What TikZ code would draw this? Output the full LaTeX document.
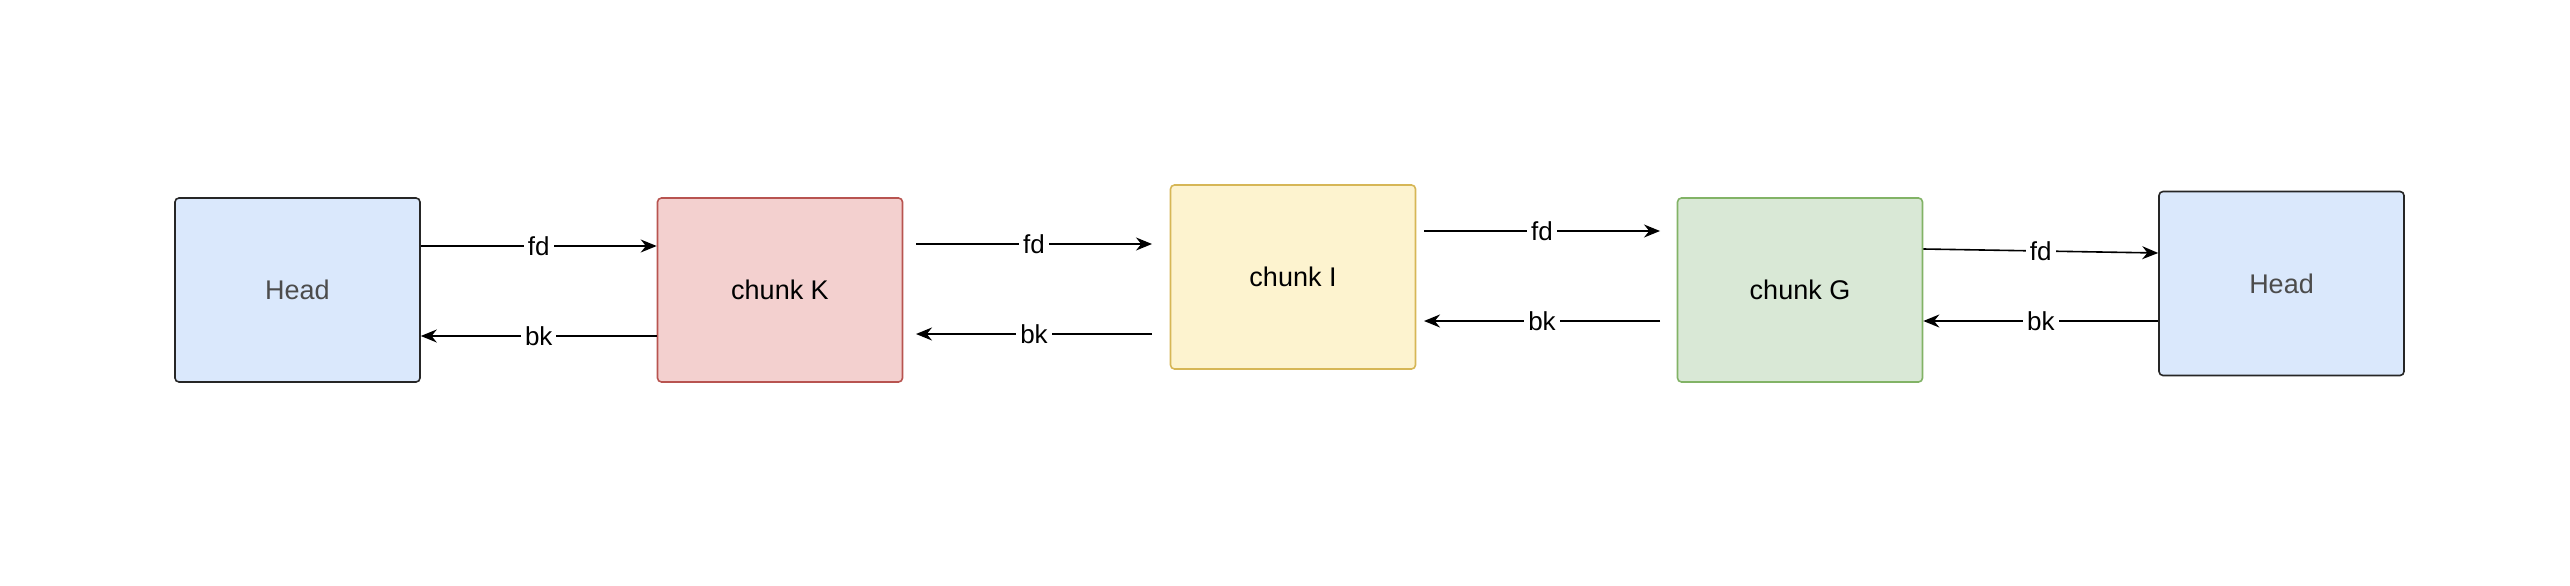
\documentclass[tikz,border=0pt]{standalone}
\usepackage{fontspec}
\setmainfont{Liberation Sans}
\usetikzlibrary{arrows.meta}
\definecolor{hb}{HTML}{DAE8FC}\definecolor{rf}{HTML}{F3D0CF}\definecolor{rs}{HTML}{B85450}
\definecolor{yf}{HTML}{FDF3CF}\definecolor{ys}{HTML}{D6B656}\definecolor{gf}{HTML}{D9E8D6}\definecolor{gs}{HTML}{82B366}
\begin{document}
\begin{tikzpicture}[x=1pt,y=-1pt,
 box/.style={draw,rounded corners=4pt,line width=1.6pt,minimum width=245pt,minimum height=184pt,inner sep=0pt,font=\fontsize{27}{32}\selectfont},
 arr/.style={line width=1.6pt,-{Stealth[length=16pt,width=13pt]}},
 lab/.style={fill=white,font=\fontsize{26}{30}\selectfont,inner sep=4pt}]
\useasboundingbox (0,0) rectangle (2570,586);
\node[box,fill=hb,draw=black!85,text=black!70] (h1) at (297.5,290) {Head};
\node[box,fill=rf,draw=rs] (k) at (780,290) {chunk K};
\node[box,fill=yf,draw=ys] (i) at (1293,277) {chunk I};
\node[box,fill=gf,draw=gs] (g) at (1800,290) {chunk G};
\node[box,fill=hb,draw=black!85,text=black!70] (h2) at (2281.5,283.5) {Head};
\coordinate (a1) at (916,244); \coordinate (a2) at (1152,244);
\coordinate (b1) at (1152,334); \coordinate (b2) at (916,334);
\coordinate (c1) at (1424,231); \coordinate (c2) at (1660,231);
\coordinate (d1) at (1660,321); \coordinate (d2) at (1424,321);
\draw[arr] (h1.east|-0,246) -- node[lab]{fd} (k.west|-0,246);
\draw[arr] (k.west|-0,336) -- node[lab]{bk} (h1.east|-0,336);
\draw[arr] (a1) -- node[lab]{fd} (a2);
\draw[arr] (b1) -- node[lab]{bk} (b2);
\draw[arr] (c1) -- node[lab]{fd} (c2);
\draw[arr] (d1) -- node[lab]{bk} (d2);
\draw[arr] (g.east|-0,249) -- node[lab]{fd} (h2.west|-0,253);
\draw[arr] (h2.west|-0,321) -- node[lab]{bk} (g.east|-0,321);
\end{tikzpicture}
\end{document}
